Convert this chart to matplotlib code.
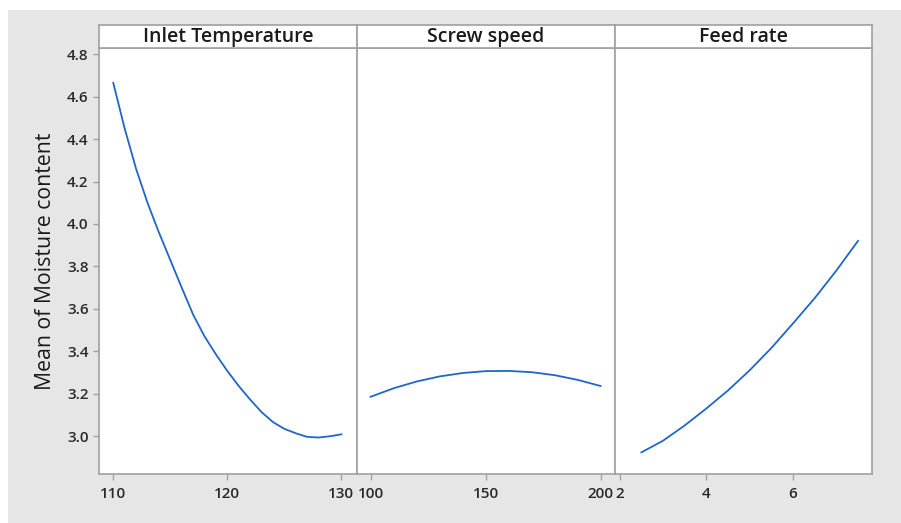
import numpy as np
import matplotlib
matplotlib.use('Agg')
import matplotlib.pyplot as plt
from matplotlib.patches import Rectangle

plt.rcParams['font.family'] = ['Open Sans', 'DejaVu Sans']

# Main effects
temp_x = [110, 111, 112, 113, 114, 115, 116, 117, 118, 119, 120,
          121, 122, 123, 124, 125, 126, 127, 128, 129, 130]
temp_y = [4.665, 4.45, 4.26, 4.10, 3.96, 3.83, 3.70, 3.573, 3.47, 3.385, 3.307,
          3.236, 3.172, 3.113, 3.066, 3.034, 3.013, 2.996, 2.993, 2.999, 3.008]

screw_x = [100, 110, 120, 130, 140, 150, 160, 170, 180, 190, 200]
screw_y = [3.185, 3.225, 3.257, 3.281, 3.297, 3.306, 3.307, 3.301, 3.287, 3.265, 3.236]

feed_x = [2.5, 3.0, 3.5, 4.0, 4.5, 5.0, 5.5, 6.0, 6.5, 7.0, 7.5]
feed_y = [2.923, 2.978, 3.05, 3.13, 3.215, 3.31, 3.415, 3.531, 3.65, 3.78, 3.92]

titles = ['Inlet Temperature', 'Screw speed', 'Feed rate']
xs = [temp_x, screw_x, feed_x]
ys = [temp_y, screw_y, feed_y]
xticks = [[110, 120, 130], [100, 150, 200], [2, 4, 6]]
xlims = [(108.75, 131.35), (94.0, 206.1), (1.88, 7.83)]
yticks = [3.0, 3.2, 3.4, 3.6, 3.8, 4.0, 4.2, 4.4, 4.6, 4.8]
ylim = (2.821, 4.828)

W, H = 901, 523
fig = plt.figure(figsize=(W / 100, H / 100), dpi=100, facecolor='white')
# grey backdrop like Minitab
fig.add_artist(Rectangle((8 / W, 0), 1 - 8 / W, 1 - 10 / H, transform=fig.transFigure,
                         facecolor='#e6e6e6', edgecolor='none', zorder=-10))

left, right = 99 / W, 872.3 / W
bottom, top = 1 - 474 / H, 1 - 48.3 / H
head_h = 23.3 / H
pw = (right - left) / 3
edge = '#a0a0a0'

for i in range(3):
    ax = fig.add_axes([left + i * pw, bottom, pw, top - bottom])
    ax.plot(xs[i], ys[i], color='#1f66c6', lw=1.3)
    ax.set_xlim(*xlims[i])
    ax.set_ylim(*ylim)
    ax.set_xticks(xticks[i])
    ax.set_yticks(yticks)
    ax.tick_params(colors=edge, labelcolor='#2a2a2a', labelsize=11, length=4, width=1)
    ax.tick_params(axis='x', pad=5)
    for lab in ax.get_xticklabels() + ax.get_yticklabels():
        lab.set_fontweight('semibold')
    if i == 0:
        ax.set_ylabel('Mean of Moisture content', fontsize=15.3, color='#1a1a1a', labelpad=8)
    else:
        ax.tick_params(axis='y', left=False, labelleft=False)
    for s in ax.spines.values():
        s.set_color(edge)
        s.set_linewidth(1.2)

    hd = fig.add_axes([left + i * pw, top, pw, head_h])
    hd.set_xticks([])
    hd.set_yticks([])
    for s in hd.spines.values():
        s.set_color(edge)
        s.set_linewidth(1.2)
    hd.text(0.5, 0.5, titles[i], ha='center', va='center', fontsize=14,
            fontweight='semibold', color='#1a1a1a', transform=hd.transAxes)

fig.savefig('out.png', dpi=100, facecolor=fig.get_facecolor())
